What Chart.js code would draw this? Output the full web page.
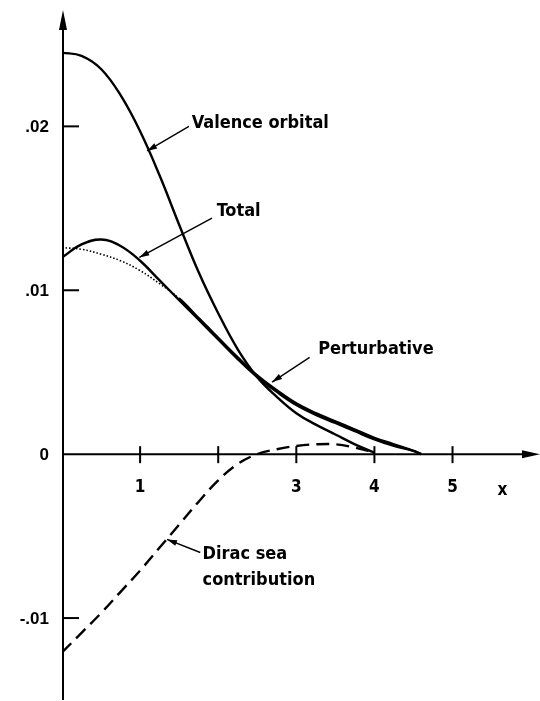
<!DOCTYPE html>
<html>
<head>
<meta charset="utf-8">
<script src="https://cdn.jsdelivr.net/npm/chart.js@4/dist/chart.umd.min.js"></script>
<style>
  html, body { margin: 0; padding: 0; background: #fff; }
  canvas { display: block; }
</style>
</head>
<body>
<canvas id="chart" width="540" height="701"></canvas>
<script>
// values (x in units of the x axis, y is density)
const xValence = [0, 0.25, 0.5, 0.75, 1, 1.25, 1.5, 1.75, 2, 2.25, 2.5, 2.75, 3, 3.25, 3.5, 3.75, 4];
const valence  = [0.0245, 0.0243, 0.0235, 0.0219, 0.0197, 0.0170, 0.0140, 0.0111, 0.0086, 0.0064, 0.0047, 0.0035, 0.0025, 0.0018, 0.0012, 0.0006, 0.0001];

const xTotal = [0, 0.25, 0.5, 0.75, 1, 1.25, 1.5, 1.75, 2, 2.25, 2.5, 2.75, 3, 3.25, 3.5, 3.75, 4, 4.25, 4.5, 4.6];
const total  = [0.0120, 0.0128, 0.0131, 0.0127, 0.0118, 0.0106, 0.0094, 0.0082, 0.0070, 0.0058, 0.0047, 0.0038, 0.0030, 0.0024, 0.0019, 0.0014, 0.0009, 0.0005, 0.0002, 0.0];
const perturbative = [0.0126, 0.0125, 0.0122, 0.0118, 0.0112, 0.0104, 0.0095, 0.0083, 0.0071, 0.0059, 0.0048, 0.0039, 0.0031, 0.0025, 0.0020, 0.0015, 0.0010, 0.0006, 0.0002, 0.0];

const xDirac = [0, 0.25, 0.5, 0.75, 1, 1.25, 1.5, 1.75, 2, 2.25, 2.5, 2.75, 3, 3.25, 3.5, 3.75, 4];
const dirac  = [-0.0121, -0.0109, -0.0097, -0.0084, -0.0071, -0.0057, -0.0043, -0.0029, -0.0016, -0.0006, 0.0, 0.0003, 0.0005, 0.0006, 0.0006, 0.0004, 0.0001];

const xTicks = [1, 2, 3, 4, 5];
const xTickLabels = ['1', '', '3', '4', '5'];
const yTicks = [0.02, 0.01, 0, -0.01];
const yTickLabels = ['.02', '.01', '0', '-.01'];

// curve labels: text, where the text starts, where the arrow starts and where it points
const labels = [
  { lines: ['Valence orbital'], at: [1.66, 0.0202], from: [1.625, 0.0200], to: [1.09, 0.0185] },
  { lines: ['Total'], at: [1.98, 0.0148], from: [1.92, 0.0144], to: [0.99, 0.0120] },
  { lines: ['Perturbative'], at: [3.28, 0.0064], from: [3.17, 0.0059], to: [2.69, 0.0044] },
  { lines: ['Dirac sea', 'contribution'], at: [1.80, -0.0061], from: [1.77, -0.0060], to: [1.345, -0.0052] }
];

const toPoints = (xs, ys) => xs.map((x, i) => ({ x: x, y: ys[i] }));

function arrowHead(ctx, x0, y0, x1, y1, len, half) {
  const a = Math.atan2(y1 - y0, x1 - x0);
  ctx.beginPath();
  ctx.moveTo(x1, y1);
  ctx.lineTo(x1 - len * Math.cos(a) + half * Math.sin(a), y1 - len * Math.sin(a) - half * Math.cos(a));
  ctx.lineTo(x1 - len * Math.cos(a) - half * Math.sin(a), y1 - len * Math.sin(a) + half * Math.cos(a));
  ctx.closePath();
  ctx.fill();
}

const axesPlugin = {
  id: 'axesPlugin',
  afterDatasetsDraw(chart) {
    const { ctx, chartArea, scales: { x, y } } = chart;
    const x0 = x.getPixelForValue(0);
    const y0 = y.getPixelForValue(0);
    ctx.save();
    ctx.strokeStyle = '#000';
    ctx.fillStyle = '#000';
    ctx.lineWidth = 2;

    // y axis with arrow
    ctx.beginPath();
    ctx.moveTo(x0 + 1, chartArea.bottom);
    ctx.lineTo(x0 + 1, chartArea.top + 12);
    ctx.stroke();
    arrowHead(ctx, x0 + 1, chartArea.bottom, x0 + 1, chartArea.top, 20, 4);

    // x axis with arrow
    ctx.beginPath();
    ctx.moveTo(x0 + 1, y0);
    ctx.lineTo(chartArea.right - 12, y0);
    ctx.stroke();
    arrowHead(ctx, x0, y0, chartArea.right, y0, 18, 4);

    // y ticks (inside) and labels
    ctx.font = 'bold 17px "Liberation Sans", Arial, sans-serif';
    ctx.textAlign = 'right';
    ctx.textBaseline = 'middle';
    yTicks.forEach((v, i) => {
      const py = y.getPixelForValue(v);
      if (v !== 0) {
        ctx.beginPath();
        ctx.moveTo(x0 + 1, py);
        ctx.lineTo(x0 + 17, py);
        ctx.stroke();
      }
      ctx.fillText(yTickLabels[i], x0 - 13, py + 1);
    });

    // x ticks (crossing) and labels
    ctx.textAlign = 'center';
    ctx.font = 'bold 17px "DejaVu Sans Condensed", "DejaVu Sans", sans-serif';
    xTicks.forEach((v, i) => {
      const px = x.getPixelForValue(v);
      ctx.beginPath();
      ctx.moveTo(px, y0 - 8);
      ctx.lineTo(px, y0 + 9);
      ctx.stroke();
      if (xTickLabels[i]) ctx.fillText(xTickLabels[i], px, y0 + 33);
    });
    ctx.fillText('x', x.getPixelForValue(5.64), y0 + 36);

    // curve labels with arrows
    ctx.textAlign = 'left';
    ctx.font = 'bold 18px "DejaVu Sans Condensed", "DejaVu Sans", sans-serif';
    ctx.lineWidth = 1.4;
    labels.forEach(l => {
      const tx = x.getPixelForValue(l.at[0]);
      const ty = y.getPixelForValue(l.at[1]);
      l.lines.forEach((s, k) => ctx.fillText(s, tx, ty + k * 26));
      const fx = x.getPixelForValue(l.from[0]), fy = y.getPixelForValue(l.from[1]);
      const px = x.getPixelForValue(l.to[0]), py = y.getPixelForValue(l.to[1]);
      ctx.beginPath();
      ctx.moveTo(fx, fy);
      ctx.lineTo(px, py);
      ctx.stroke();
      arrowHead(ctx, fx, fy, px, py, 10, 3);
    });
    ctx.restore();
  }
};

const lineBase = {
  borderColor: '#000',
  borderWidth: 2.4,
  pointRadius: 0,
  fill: false,
  tension: 0.4
};

new Chart(document.getElementById('chart'), {
  type: 'line',
  data: {
    datasets: [
      { ...lineBase, label: 'Valence orbital', data: toPoints(xValence, valence) },
      { ...lineBase, label: 'Total', data: toPoints(xTotal, total) },
      {
        ...lineBase, label: 'Perturbative', data: toPoints(xTotal, perturbative),
        segment: {
          borderDash: c => c.p0.parsed.x < 1.5 ? [1.5, 2] : undefined,
          borderWidth: c => c.p0.parsed.x < 1.5 ? 1.6 : 2.4
        }
      },
      { ...lineBase, label: 'Dirac sea contribution', data: toPoints(xDirac, dirac), borderDash: [13, 7] }
    ]
  },
  options: {
    responsive: false,
    animation: false,
    layout: { padding: { left: 62, right: 0, top: 10, bottom: 1 } },
    plugins: { legend: { display: false }, tooltip: { enabled: false } },
    scales: {
      x: { type: 'linear', min: 0, max: 6.12, display: false },
      y: { type: 'linear', min: -0.0150, max: 0.0271, display: false }
    }
  },
  plugins: [axesPlugin]
});
</script>
</body>
</html>
